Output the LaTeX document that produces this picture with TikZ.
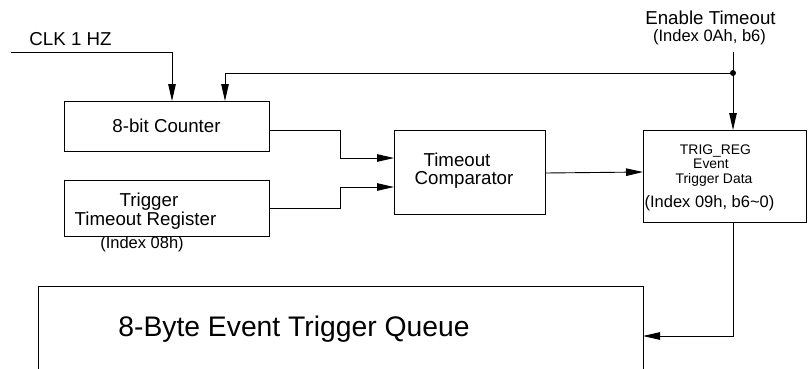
\documentclass[tikz,border=0pt]{standalone}
\usepackage{fontspec}
\setmainfont{Liberation Sans}
\usetikzlibrary{arrows.meta,calc}
\begin{document}
\begin{tikzpicture}[x=1pt,y=-1pt,
  box/.style={draw,line width=0.9pt,inner sep=0pt,outer sep=0pt,anchor=north west},
  big/.style={inner sep=0pt,font=\fontsize{18.7}{19}\selectfont},
  mid/.style={inner sep=0pt,font=\fontsize{16.5}{17}\selectfont},
  small/.style={inner sep=0pt,font=\fontsize{13.9}{14}\selectfont},
  huge/.style={inner sep=0pt,font=\fontsize{28.3}{29}\selectfont},
  wire/.style={line width=0.9pt},
  arr/.style={line width=0.9pt,-{Triangle[length=17pt,width=7.5pt]}}
]
\useasboundingbox (0,0) rectangle (811,368);

% boxes
\node[box,minimum width=205pt,minimum height=50pt,big] (counter) at (64,101) {8-bit Counter};
\node[box,minimum width=205pt,minimum height=56pt] (ttr) at (64,180) {};
\node[box,minimum width=151pt,minimum height=84pt] (comp) at (394,130) {};
\node[box,minimum width=163pt,minimum height=92pt] (trig) at (643,130) {};
\node[box,minimum width=605pt,minimum height=120pt] (queue) at (38,286) {};

% texts
\node[big,anchor=base] (ttr1) at (149,206) {Trigger};
\node[big,anchor=base] (ttr2) at (145.5,225) {Timeout Register};
\node[mid,anchor=base] (ttr3) at (142,248) {(Index 08h)};
\node[big,anchor=base] (comp1) at (457,166) {Timeout};
\node[big,anchor=base] (comp2) at (464,184) {Comparator};
\node[small,anchor=base] (trig1) at (715.5,154) {TRIG\_REG};
\node[small,anchor=base] (trig2) at (711,168) {Event};
\node[small,anchor=base] (trig3) at (714,183) {Trigger Data};
\node[mid,anchor=base] (trig4) at (709.5,207) {(Index 09h, b6\textasciitilde0)};
\node[huge,anchor=base] (q1) at (294,336) {8-Byte Event Trigger Queue};
\node[big,anchor=base] (clk) at (70.5,45) {CLK 1 HZ};
\node[big,anchor=base] (en1) at (710.5,24) {Enable Timeout};
\node[mid,anchor=base] (en2) at (709.5,41) {(Index 0Ah, b6)};

% coordinates
\coordinate (clkin) at (11,52);
\coordinate (ensrc) at (733,52);
\coordinate (dot) at (733,73);

% connectors
\draw[arr] (clkin) -| (counter.north west -| 172,0);
\draw[arr] (ensrc) -- (trig.north west -| dot);
\fill (dot) circle (3pt);
\draw[arr] (dot) -| (counter.north west -| 225,0);
\draw[arr] ([yshift=-4pt]counter.east) -- ++(71,0) |- ([yshift=14pt]comp.west);
\draw[arr] (ttr.east) -- ++(71,0) |- ([yshift=-15pt]comp.west);
\draw[arr] ([yshift=-1pt]comp.east) -- (comp.east -| trig.west);
\draw[arr] (trig.south west -| dot) |- (queue.north east |- 0,336);
\end{tikzpicture}
\end{document}
